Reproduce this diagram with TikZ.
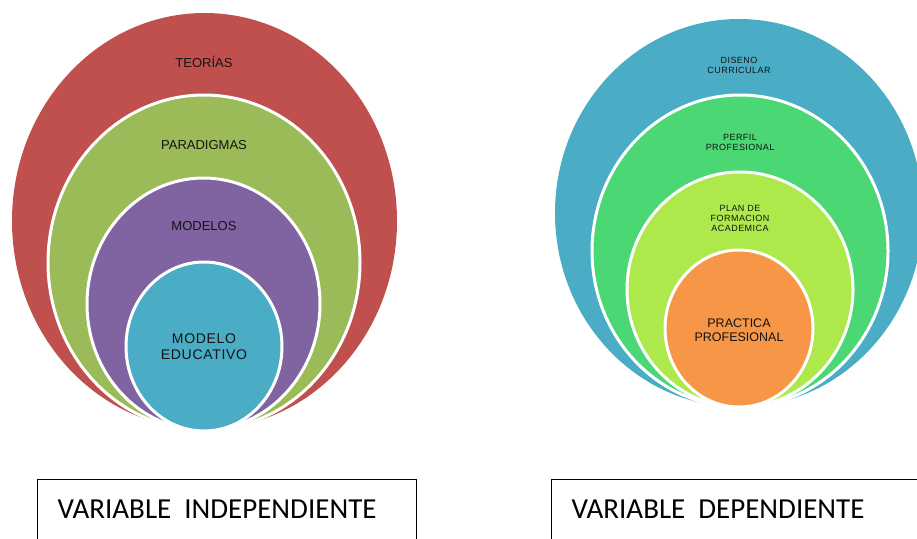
\documentclass[tikz,border=0pt]{standalone}
\usepackage{fontspec}
\setmainfont{Liberation Sans}
\newfontfamily\boxfont{Carlito}
\newfontfamily\spacedfont[LetterSpace=5]{Liberation Sans}
\usetikzlibrary{shapes.geometric}
\usetikzlibrary{positioning}

\definecolor{teoriasred}{HTML}{C0504D}
\definecolor{paradigmgreen}{HTML}{9BBB59}
\definecolor{modelpurple}{HTML}{8064A2}
\definecolor{educteal}{HTML}{4BACC6}
\definecolor{disenoteal}{HTML}{4BACC6}
\definecolor{perfilgreen}{HTML}{4AD774}
\definecolor{planlime}{HTML}{ADE94B}
\definecolor{practorange}{HTML}{F79646}
\definecolor{labelgray}{HTML}{141414}

\tikzstyle{ring} = [
    ellipse,
    draw=white,
    line width=3pt,
    inner sep=0pt
]
\tikzstyle{ring_label} = [
    align=center,
    inner sep=0pt,
    text=labelgray,
    font=\fontsize{13}{15}\selectfont
]
\tikzstyle{small_label} = [
    align=center,
    inner sep=0pt,
    text=labelgray,
    font=\spacedfont\fontsize{9}{10}\selectfont
]
\tikzstyle{var_box} = [
    draw=black,
    line width=1pt,
    anchor=north west,
    align=left,
    inner xsep=20pt,
    inner ysep=10pt,
    text height=29pt,
    text depth=40pt,
    font=\boxfont\fontsize{29}{32}\selectfont
]

\begin{document}
\begin{tikzpicture}[x=1pt, y=-1pt]
\clip (0,0) rectangle (917,538);

% variable independiente
\node [ring, fill=teoriasred, draw=none, minimum width=385pt, minimum height=416pt] (teorias) at (204.5,221) {};
\node [ring, fill=paradigmgreen, minimum width=312pt, minimum height=335pt] (paradigmas) at (204,262.5) {};
\node [ring, fill=modelpurple, minimum width=233pt, minimum height=252pt] (modelos) at (203.5,304) {};
\node [ring, fill=educteal, minimum width=156pt, minimum height=169pt] (educativo) at (204,346.5) {};

\node [ring_label] (teorias_lbl) at (204,62) {TEORÍAS};
\node [ring_label] (paradigmas_lbl) at (204,145) {PARADIGMAS};
\node [ring_label] (modelos_lbl) at (204,226) {MODELOS};
\node [ring_label, font=\spacedfont\fontsize{14}{16}\selectfont] (educativo_lbl) at (204,347) {MODELO\\EDUCATIVO};

% variable dependiente
\node [ring, fill=disenoteal, draw=none, minimum width=368pt, minimum height=388pt] (diseno) at (739,213) {};
\node [ring, fill=perfilgreen, minimum width=296pt, minimum height=312pt] (perfil) at (740,251) {};
\node [ring, fill=planlime, minimum width=226pt, minimum height=235pt] (plan) at (740,289.5) {};
\node [ring, fill=practorange, minimum width=148pt, minimum height=157pt] (practica) at (739,328.5) {};

\node [small_label] (diseno_lbl) at (739,65) {DISENO\\CURRICULAR};
\node [small_label] (perfil_lbl) at (740,142) {PERFIL\\PROFESIONAL};
\node [small_label] (plan_lbl) at (740,218) {PLAN DE\\FORMACION\\ACADEMICA};
\node [ring_label, font=\fontsize{12.5}{14}\selectfont] (practica_lbl) at (739,330) {PRACTICA\\PROFESIONAL};

% cajas
\node [var_box, text width=339pt] (indep) at (37,479) {VARIABLE\hspace{13pt}INDEPENDIENTE};
\node [var_box, text width=400pt] (dep) at (551,479) {VARIABLE\hspace{13pt}DEPENDIENTE};
\end{tikzpicture}
\end{document}
